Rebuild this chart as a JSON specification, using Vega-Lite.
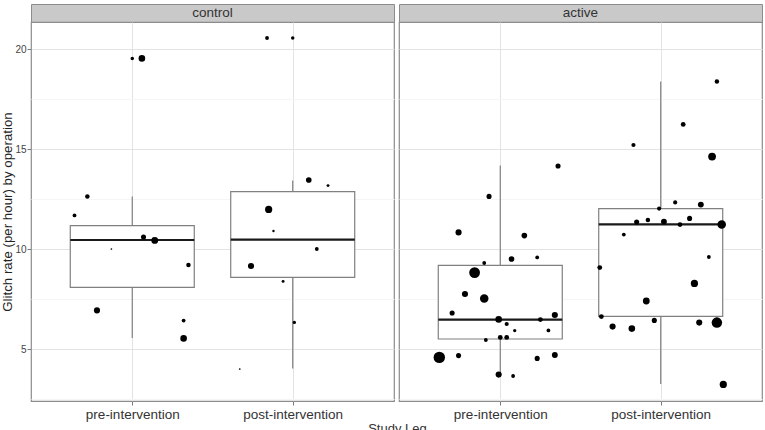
{
  "$schema": "https://vega.github.io/schema/vega-lite/v6.json",
  "padding": {"left": 0, "top": 3, "right": 0, "bottom": 0},
  "background": "white",
  "title": {"text": "Study Leg", "orient": "bottom", "anchor": "middle", "fontSize": 13, "fontWeight": "normal", "color": "#333333", "offset": 2, "dx": 16},
  "datasets": {
    "boxes": [
      {"arm": "control", "leg": "pre-intervention", "pos": 1, "lower": 5.55, "q1": 8.08, "median": 10.45, "q3": 11.17, "upper": 12.63},
      {"arm": "control", "leg": "post-intervention", "pos": 2, "lower": 4.03, "q1": 8.58, "median": 10.47, "q3": 12.87, "upper": 13.42},
      {"arm": "active", "leg": "pre-intervention", "pos": 1, "lower": 3.72, "q1": 5.5, "median": 6.47, "q3": 9.18, "upper": 14.17},
      {"arm": "active", "leg": "post-intervention", "pos": 2, "lower": 3.25, "q1": 6.63, "median": 11.23, "q3": 12.02, "upper": 18.37}
    ],
    "outliers": [
      {"arm": "control", "leg": "pre-intervention", "pos": 1, "rate": 19.53},
      {"arm": "control", "leg": "post-intervention", "pos": 2, "rate": 20.55}
    ],
    "points": [
      {"arm": "control", "leg": "pre-intervention", "pos": 1.06, "rate": 19.53, "ops": 15},
      {"arm": "control", "leg": "pre-intervention", "pos": 0.72, "rate": 12.63, "ops": 7},
      {"arm": "control", "leg": "pre-intervention", "pos": 0.64, "rate": 11.68, "ops": 5},
      {"arm": "control", "leg": "pre-intervention", "pos": 1.07, "rate": 10.6, "ops": 9},
      {"arm": "control", "leg": "pre-intervention", "pos": 1.14, "rate": 10.43, "ops": 16},
      {"arm": "control", "leg": "pre-intervention", "pos": 0.87, "rate": 10.0, "ops": 1},
      {"arm": "control", "leg": "pre-intervention", "pos": 1.35, "rate": 9.2, "ops": 7},
      {"arm": "control", "leg": "pre-intervention", "pos": 0.78, "rate": 6.93, "ops": 13},
      {"arm": "control", "leg": "pre-intervention", "pos": 1.32, "rate": 6.42, "ops": 5},
      {"arm": "control", "leg": "pre-intervention", "pos": 1.32, "rate": 5.53, "ops": 15},
      {"arm": "control", "leg": "post-intervention", "pos": 1.84, "rate": 20.55, "ops": 5},
      {"arm": "control", "leg": "post-intervention", "pos": 2.1, "rate": 13.45, "ops": 11},
      {"arm": "control", "leg": "post-intervention", "pos": 2.22, "rate": 13.17, "ops": 3},
      {"arm": "control", "leg": "post-intervention", "pos": 1.85, "rate": 11.98, "ops": 18},
      {"arm": "control", "leg": "post-intervention", "pos": 1.88, "rate": 10.9, "ops": 2},
      {"arm": "control", "leg": "post-intervention", "pos": 2.15, "rate": 10.0, "ops": 5},
      {"arm": "control", "leg": "post-intervention", "pos": 1.74, "rate": 9.15, "ops": 13},
      {"arm": "control", "leg": "post-intervention", "pos": 1.94, "rate": 8.38, "ops": 3},
      {"arm": "control", "leg": "post-intervention", "pos": 2.01, "rate": 6.33, "ops": 4},
      {"arm": "control", "leg": "post-intervention", "pos": 1.67, "rate": 4.0, "ops": 1},
      {"arm": "active", "leg": "pre-intervention", "pos": 1.36, "rate": 14.15, "ops": 9},
      {"arm": "active", "leg": "pre-intervention", "pos": 0.93, "rate": 12.63, "ops": 9},
      {"arm": "active", "leg": "pre-intervention", "pos": 0.74, "rate": 10.83, "ops": 13},
      {"arm": "active", "leg": "pre-intervention", "pos": 1.15, "rate": 10.67, "ops": 11},
      {"arm": "active", "leg": "pre-intervention", "pos": 1.07, "rate": 9.5, "ops": 11},
      {"arm": "active", "leg": "pre-intervention", "pos": 1.23, "rate": 9.58, "ops": 5},
      {"arm": "active", "leg": "pre-intervention", "pos": 0.9, "rate": 9.3, "ops": 5},
      {"arm": "active", "leg": "pre-intervention", "pos": 0.84, "rate": 8.82, "ops": 40},
      {"arm": "active", "leg": "pre-intervention", "pos": 0.78, "rate": 7.75, "ops": 13},
      {"arm": "active", "leg": "pre-intervention", "pos": 0.9, "rate": 7.52, "ops": 25},
      {"arm": "active", "leg": "pre-intervention", "pos": 0.7, "rate": 6.8, "ops": 9},
      {"arm": "active", "leg": "pre-intervention", "pos": 1.34, "rate": 6.7, "ops": 13},
      {"arm": "active", "leg": "pre-intervention", "pos": 0.99, "rate": 6.48, "ops": 15},
      {"arm": "active", "leg": "pre-intervention", "pos": 1.25, "rate": 6.47, "ops": 8},
      {"arm": "active", "leg": "pre-intervention", "pos": 1.04, "rate": 6.25, "ops": 6},
      {"arm": "active", "leg": "pre-intervention", "pos": 1.09, "rate": 5.92, "ops": 4},
      {"arm": "active", "leg": "pre-intervention", "pos": 1.3, "rate": 5.93, "ops": 5},
      {"arm": "active", "leg": "pre-intervention", "pos": 0.91, "rate": 5.45, "ops": 5},
      {"arm": "active", "leg": "pre-intervention", "pos": 1.0, "rate": 5.58, "ops": 8},
      {"arm": "active", "leg": "pre-intervention", "pos": 1.04, "rate": 5.58, "ops": 8},
      {"arm": "active", "leg": "pre-intervention", "pos": 0.62, "rate": 4.58, "ops": 45},
      {"arm": "active", "leg": "pre-intervention", "pos": 0.74, "rate": 4.67, "ops": 9},
      {"arm": "active", "leg": "pre-intervention", "pos": 1.23, "rate": 4.53, "ops": 9},
      {"arm": "active", "leg": "pre-intervention", "pos": 1.34, "rate": 4.7, "ops": 12},
      {"arm": "active", "leg": "pre-intervention", "pos": 0.99, "rate": 3.72, "ops": 13},
      {"arm": "active", "leg": "pre-intervention", "pos": 1.08, "rate": 3.65, "ops": 5},
      {"arm": "active", "leg": "post-intervention", "pos": 2.35, "rate": 18.38, "ops": 7},
      {"arm": "active", "leg": "post-intervention", "pos": 2.14, "rate": 16.23, "ops": 8},
      {"arm": "active", "leg": "post-intervention", "pos": 1.83, "rate": 15.2, "ops": 6},
      {"arm": "active", "leg": "post-intervention", "pos": 2.32, "rate": 14.62, "ops": 21},
      {"arm": "active", "leg": "post-intervention", "pos": 2.09, "rate": 12.33, "ops": 6},
      {"arm": "active", "leg": "post-intervention", "pos": 2.25, "rate": 12.22, "ops": 12},
      {"arm": "active", "leg": "post-intervention", "pos": 1.99, "rate": 12.02, "ops": 6},
      {"arm": "active", "leg": "post-intervention", "pos": 2.18, "rate": 11.53, "ops": 9},
      {"arm": "active", "leg": "post-intervention", "pos": 1.85, "rate": 11.35, "ops": 9},
      {"arm": "active", "leg": "post-intervention", "pos": 1.92, "rate": 11.45, "ops": 7},
      {"arm": "active", "leg": "post-intervention", "pos": 2.02, "rate": 11.37, "ops": 12},
      {"arm": "active", "leg": "post-intervention", "pos": 2.12, "rate": 11.22, "ops": 8},
      {"arm": "active", "leg": "post-intervention", "pos": 2.38, "rate": 11.23, "ops": 25},
      {"arm": "active", "leg": "post-intervention", "pos": 1.77, "rate": 10.72, "ops": 5},
      {"arm": "active", "leg": "post-intervention", "pos": 2.3, "rate": 9.6, "ops": 5},
      {"arm": "active", "leg": "post-intervention", "pos": 1.62, "rate": 9.07, "ops": 8},
      {"arm": "active", "leg": "post-intervention", "pos": 2.21, "rate": 8.28, "ops": 18},
      {"arm": "active", "leg": "post-intervention", "pos": 1.91, "rate": 7.4, "ops": 16},
      {"arm": "active", "leg": "post-intervention", "pos": 1.63, "rate": 6.62, "ops": 8},
      {"arm": "active", "leg": "post-intervention", "pos": 1.7, "rate": 6.12, "ops": 13},
      {"arm": "active", "leg": "post-intervention", "pos": 1.82, "rate": 6.02, "ops": 15},
      {"arm": "active", "leg": "post-intervention", "pos": 1.96, "rate": 6.43, "ops": 9},
      {"arm": "active", "leg": "post-intervention", "pos": 2.24, "rate": 6.32, "ops": 13},
      {"arm": "active", "leg": "post-intervention", "pos": 2.35, "rate": 6.32, "ops": 38},
      {"arm": "active", "leg": "post-intervention", "pos": 2.39, "rate": 3.23, "ops": 18}
    ]
  },
  "spacing": 3,
  "hconcat": [
    {
      "vconcat": [
        {
          "width": 363, "height": 18,
          "view": {"fill": "#c9c9c9", "stroke": "#8c8c8c"},
          "data": {"values": [{"arm": "control"}]},
          "mark": {"type": "text", "fontSize": 13.5, "color": "#333333", "baseline": "middle"},
          "encoding": {"text": {"field": "arm"}}
        },
        {
          "width": 363, "height": 379,
          "encoding": {
            "x": {"field": "pos", "type": "quantitative", "scale": {"domain": [0.4, 2.6], "nice": false, "zero": false}, "title": null,
              "axis": {"values": [1, 2], "labelExpr": "datum.value === 1 ? 'pre-intervention' : 'post-intervention'"}}
          },
          "layer": [
            {
              "data": {"name": "boxes"},
              "transform": [{"filter": "datum.arm === 'control'"}],
              "mark": {"type": "rule", "color": "#808080", "strokeWidth": 1.2},
              "encoding": {
                "y": {"field": "lower", "type": "quantitative", "scale": {"domain": [2.4, 21.35], "nice": false, "zero": false}, "title": "Glitch rate (per hour) by operation",
                  "axis": {"values": [2.5, 5, 7.5, 10, 12.5, 15, 17.5, 20], "labelExpr": "datum.value % 5 === 0 ? datum.label : ''",
                    "gridColor": {"condition": {"test": "datum.value % 5 === 0", "value": "#e3e3e3"}, "value": "#f5f5f5"},
                    "tickOpacity": {"condition": {"test": "datum.value % 5 === 0", "value": 1}, "value": 0}}},
                "y2": {"field": "upper"}
              }
            },
            {
              "data": {"name": "boxes"},
              "transform": [{"filter": "datum.arm === 'control'"}],
              "mark": {"type": "bar", "fill": "white", "stroke": "#808080", "strokeWidth": 1.2, "width": 124},
              "encoding": {
                "y": {"field": "q1", "type": "quantitative", "scale": {"domain": [2.4, 21.35], "nice": false, "zero": false}, "title": "Glitch rate (per hour) by operation"},
                "y2": {"field": "q3"}
              }
            },
            {
              "data": {"name": "boxes"},
              "transform": [{"filter": "datum.arm === 'control'"}],
              "mark": {"type": "bar", "fillOpacity": 0, "stroke": "#1a1a1a", "strokeWidth": 2.2, "width": 124},
              "encoding": {
                "y": {"field": "median", "type": "quantitative", "scale": {"domain": [2.4, 21.35], "nice": false, "zero": false}, "title": "Glitch rate (per hour) by operation"},
                "y2": {"field": "median"}
              }
            },
            {
              "data": {"name": "outliers"},
              "transform": [{"filter": "datum.arm === 'control'"}],
              "mark": {"type": "circle", "color": "black", "opacity": 1, "size": 12},
              "encoding": {
                "y": {"field": "rate", "type": "quantitative", "scale": {"domain": [2.4, 21.35], "nice": false, "zero": false}, "title": "Glitch rate (per hour) by operation"}
              }
            },
            {
              "data": {"name": "points"},
              "transform": [{"filter": "datum.arm === 'control'"}],
              "mark": {"type": "circle", "color": "black", "opacity": 1},
              "encoding": {
                "y": {"field": "rate", "type": "quantitative", "scale": {"domain": [2.4, 21.35], "nice": false, "zero": false}, "title": "Glitch rate (per hour) by operation"},
                "size": {"field": "ops", "type": "quantitative", "scale": {"domain": [0, 45], "range": [0, 130]}, "legend": null}
              }
            }
          ]
        }
      ],
      "spacing": 0,
      "bounds": "flush"
    },
    {
      "vconcat": [
        {
          "width": 363, "height": 18,
          "view": {"fill": "#c9c9c9", "stroke": "#8c8c8c"},
          "data": {"values": [{"arm": "active"}]},
          "mark": {"type": "text", "fontSize": 13.5, "color": "#333333", "baseline": "middle"},
          "encoding": {"text": {"field": "arm"}}
        },
        {
          "width": 363, "height": 379,
          "encoding": {
            "x": {"field": "pos", "type": "quantitative", "scale": {"domain": [0.4, 2.6], "nice": false, "zero": false}, "title": null,
              "axis": {"values": [1, 2], "labelExpr": "datum.value === 1 ? 'pre-intervention' : 'post-intervention'"}}
          },
          "layer": [
            {
              "data": {"name": "boxes"},
              "transform": [{"filter": "datum.arm === 'active'"}],
              "mark": {"type": "rule", "color": "#808080", "strokeWidth": 1.2},
              "encoding": {
                "y": {"field": "lower", "type": "quantitative", "scale": {"domain": [2.4, 21.35], "nice": false, "zero": false}, "title": null,
                  "axis": {"values": [2.5, 5, 7.5, 10, 12.5, 15, 17.5, 20], "labels": false, "ticks": false,
                    "gridColor": {"condition": {"test": "datum.value % 5 === 0", "value": "#e3e3e3"}, "value": "#f5f5f5"}}},
                "y2": {"field": "upper"}
              }
            },
            {
              "data": {"name": "boxes"},
              "transform": [{"filter": "datum.arm === 'active'"}],
              "mark": {"type": "bar", "fill": "white", "stroke": "#808080", "strokeWidth": 1.2, "width": 124},
              "encoding": {
                "y": {"field": "q1", "type": "quantitative", "scale": {"domain": [2.4, 21.35], "nice": false, "zero": false}, "title": null},
                "y2": {"field": "q3"}
              }
            },
            {
              "data": {"name": "boxes"},
              "transform": [{"filter": "datum.arm === 'active'"}],
              "mark": {"type": "bar", "fillOpacity": 0, "stroke": "#1a1a1a", "strokeWidth": 2.2, "width": 124},
              "encoding": {
                "y": {"field": "median", "type": "quantitative", "scale": {"domain": [2.4, 21.35], "nice": false, "zero": false}, "title": null},
                "y2": {"field": "median"}
              }
            },
            {
              "data": {"name": "points"},
              "transform": [{"filter": "datum.arm === 'active'"}],
              "mark": {"type": "circle", "color": "black", "opacity": 1},
              "encoding": {
                "y": {"field": "rate", "type": "quantitative", "scale": {"domain": [2.4, 21.35], "nice": false, "zero": false}, "title": null},
                "size": {"field": "ops", "type": "quantitative", "scale": {"domain": [0, 45], "range": [0, 130]}, "legend": null}
              }
            }
          ]
        }
      ],
      "spacing": 0,
      "bounds": "flush"
    }
  ],
  "config": {
    "font": "Liberation Sans",
    "view": {"stroke": "#8c8c8c", "strokeWidth": 1.2},
    "axis": {"domain": false, "tickColor": "#7a7a7a", "tickSize": 4, "labelPadding": 1, "titleFontWeight": "normal", "titleColor": "#222222", "titleFontSize": 13.3},
    "axisY": {"labelFontSize": 10, "labelColor": "#444444", "titlePadding": 0, "grid": true},
    "axisX": {"labelFontSize": 13.5, "labelColor": "#333333", "grid": true, "gridColor": "#e3e3e3", "labelAngle": 0, "labelPadding": 2, "labelFlush": false}
  }
}
